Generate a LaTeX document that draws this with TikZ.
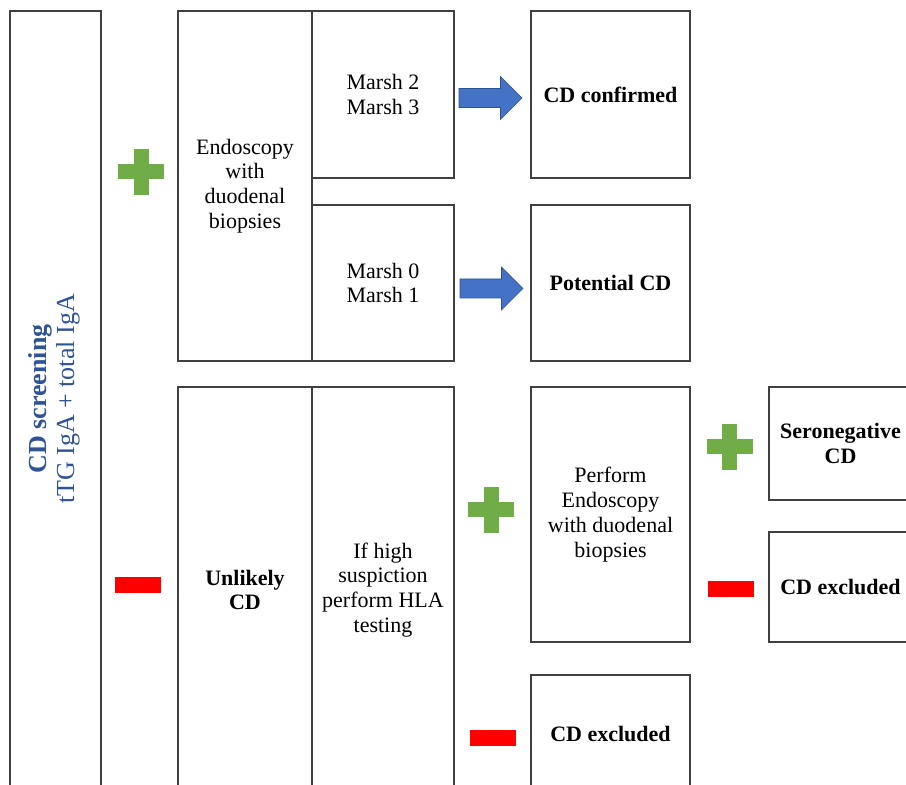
\documentclass[tikz,border=0pt]{standalone}
\usepackage{fontspec}
\setmainfont{Liberation Serif}
\usetikzlibrary{positioning}
\definecolor{wordblue}{HTML}{4472C4}
\definecolor{wordblueline}{HTML}{2F528F}
\definecolor{titleblue}{HTML}{2F5496}
\definecolor{wordgreen}{HTML}{70AD47}
\definecolor{wordred}{HTML}{FF0000}
\newcommand{\boxfont}{\fontsize{11}{12.4}\selectfont}
\tikzset{
    % Colors
    box color/.style={black!75},
    plus color/.style={wordgreen},
    minus color/.style={wordred},
    arrow color/.style={fill=wordblue,draw=wordblueline,line width=0.3pt},
    %
    % Boxes
    box/.style={draw,box color,line width=0.75pt,align=center,inner sep=0pt,text=black},
    box size/.style 2 args={minimum width=#1*0.5pt,minimum height=#2*0.5pt},
    result/.style={font=\boxfont\bfseries},
    %
    % Signs and arrows
    plus sign/.pic={
        \fill[plus color] (-23,-7.5) rectangle (23,7.5);
        \fill[plus color] (-7.5,-23) rectangle (7.5,23);
    },
    minus sign/.pic={\fill[minus color] (-23,-8) rectangle (23,8);},
    fat arrow/.pic={
        \filldraw[arrow color] (-31.5,-9.5) -- (10,-9.5) -- (10,-21.5) -- (31.5,0)
            -- (10,21.5) -- (10,9.5) -- (-31.5,9.5) -- cycle;
    }
}
\tikzstyle{every node}=[font=\boxfont]

\begin{document}
\begin{tikzpicture}[x=0.5pt,y=-0.5pt]
    \useasboundingbox (0,0) rectangle (906,785);
    \clip (0,0) rectangle (906,785);
    % screening column
    \node[box,box size={91}{800}] (screen) at (55.5,411) {};
    \node[rotate=90,align=center,text=titleblue,font=\fontsize{13}{14}\selectfont] (screentext) at (54,399)
        {\textbf{CD screening}\\tTG IgA + total IgA};
    %
    % positive branch
    \node[box,box size={134}{350}] (endo) at (245,186) {Endoscopy\\with\\duodenal\\biopsies};
    \node[box,box size={142}{167}] (marshhigh) at (383,94.5) {Marsh 2\\Marsh 3};
    \node[box,box size={142}{156}] (marshlow) at (383,283) {Marsh 0\\Marsh 1};
    \node[box,result,box size={159}{167}] (confirmed) at (610.5,94.5) {CD confirmed};
    \node[box,result,box size={159}{156}] (potential) at (610.5,283) {Potential CD};
    \pic at (141,172) {plus sign};
    \pic at (490.5,98) {fat arrow};
    \pic at (491.5,288.5) {fat arrow};
    %
    % negative branch
    \node[box,result,box size={134}{406}] (unlikely) at (245,590) {Unlikely\\CD};
    \node[box,box size={142}{406}] (hla) at (383,590) {If high\\suspiction\\perform HLA\\testing};
    \node[box,box size={159}{255}] (perform) at (610.5,514.5) {Perform\\Endoscopy\\with duodenal\\biopsies};
    \node[box,result,box size={159}{118}] (excluded) at (610.5,734) {CD excluded};
    \node[box,result,box size={143}{113}] (seroneg) at (840.5,443.5) {Seronegative\\CD};
    \node[box,result,box size={143}{110}] (excludedbx) at (840.5,587) {CD excluded};
    \pic at (138,585) {minus sign};
    \pic at (491,510) {plus sign};
    \pic at (493,738) {minus sign};
    \pic at (729.5,447) {plus sign};
    \pic at (731,589.5) {minus sign};
\end{tikzpicture}
\end{document}
